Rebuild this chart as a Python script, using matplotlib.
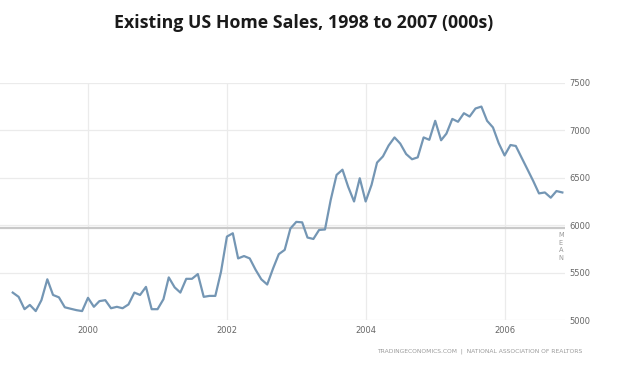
from datetime import datetime as dt

import matplotlib

matplotlib.use("Agg")
import matplotlib.dates as mdates
import matplotlib.pyplot as plt
import numpy as np
import pandas as pd

# Monthly existing home sales (000s), Dec 1998 .. Nov 2006
start_month = "1998-12-01"
sales = [
    5290, 5245, 5115, 5160, 5095, 5210, 5430, 5265, 5240, 5135, 5120, 5105,
    5095, 5235, 5140, 5200, 5210, 5125, 5140, 5125, 5165, 5290, 5265, 5350,
    5115, 5115, 5220, 5450, 5345, 5290, 5435, 5435, 5485, 5245, 5255, 5255,
    5510, 5880, 5915, 5650, 5675, 5650, 5530, 5430, 5375, 5545, 5695, 5740,
    5965, 6035, 6030, 5870, 5855, 5950, 5955, 6265, 6530, 6585, 6405, 6250,
    6495, 6250, 6425, 6660, 6725, 6840, 6925, 6860, 6750, 6695, 6715, 6925,
    6900, 7100, 6895, 6965, 7120, 7090, 7180, 7145, 7230, 7250, 7100, 7030,
    6865, 6735, 6845, 6835, 6710, 6590, 6465, 6335, 6345, 6290, 6360, 6345,
]
year_ticks = [2000, 2002, 2004, 2006]
value_ticks = [5000, 5500, 6000, 6500, 7000, 7500]

title = "Existing US Home Sales, 1998 to 2007 (000s)"
source = "TRADINGECONOMICS.COM  |  NATIONAL ASSOCIATION OF REALTORS"

df = pd.DataFrame(
    {"date": pd.date_range(start_month, periods=len(sales), freq="MS"), "sales": sales}
)

fig = plt.figure(figsize=(6.2, 3.65), dpi=100)
ax = fig.add_axes([0.0, 0.123, 0.911, 0.650])

ax.plot(df["date"], df["sales"], color="#7496b4", linewidth=1.6, zorder=3)

# mean line
mean_val = np.mean(sales)
ax.axhline(mean_val, color="#c9c9c9", linewidth=1.6, zorder=2)
ax.text(
    0.993, mean_val - 50, "M\nE\nA\nN",
    transform=ax.get_yaxis_transform(), ha="center", va="top",
    fontsize=4.8, color="#9a9a9a", linespacing=1.3,
)

ax.set_xlim(dt(1998, 9, 25), dt(2006, 11, 14))
ax.set_ylim(5000, 7500)
ax.set_xticks([dt(y, 1, 1) for y in year_ticks])
ax.xaxis.set_major_formatter(mdates.DateFormatter("%Y"))
ax.set_yticks(value_ticks)
ax.yaxis.tick_right()
ax.grid(True, color="#ebebeb", linewidth=0.9)
ax.tick_params(length=0, labelsize=6, labelcolor="#666666", pad=4)
ax.tick_params(axis="y", pad=3)
for s in ax.spines.values():
    s.set_visible(False)

fig.text(0.49, 0.938, title, ha="center", va="center",
         fontsize=12.8, fontweight="bold", family="Open Sans", color="#1a1a1a")
fig.text(0.773, 0.038, source, ha="center", va="center",
         fontsize=4.3, color="#9a9a9a")

fig.savefig("out.png", dpi=100, facecolor="white")
